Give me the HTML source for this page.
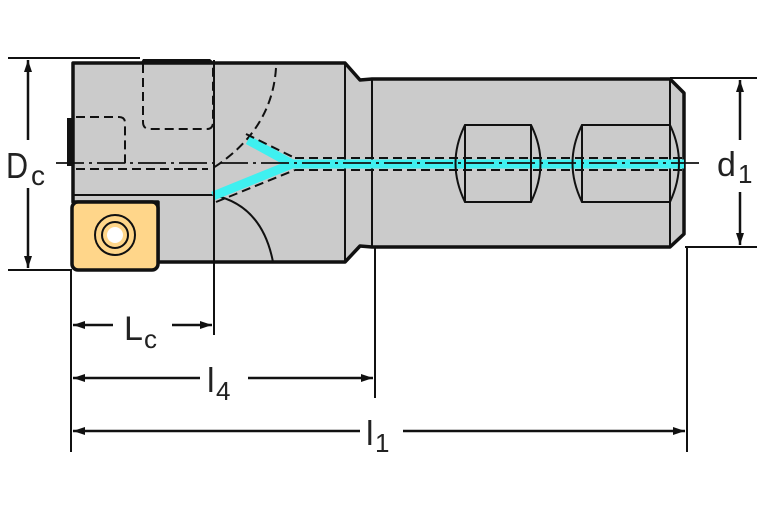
<!DOCTYPE html>
<html><head><style>
html,body{margin:0;padding:0;background:#fff;}
svg{display:block;}
text{font-family:"Liberation Sans",sans-serif;fill:#222;}
</style></head><body>
<svg width="767" height="523" viewBox="0 0 767 523" xmlns="http://www.w3.org/2000/svg">
<defs>
<marker id="a" markerWidth="12" markerHeight="8" refX="12" refY="4" orient="auto" markerUnits="userSpaceOnUse"><path d="M0,0 L12,4 L0,8 Z" fill="#111"/></marker>
</defs>
<!-- head body -->
<path d="M73,63 L345,63 L360,80 L372,79 L670,79 L684,93 L684,234 L670,247 L372,247 L360,246 L345,262 L158,262 L158,202 L73,202 Z" fill="#cbcbcb" stroke="#111" stroke-width="3.5" stroke-linejoin="round"/>
<line x1="345" y1="63" x2="345" y2="262" stroke="#111" stroke-width="2"/>
<line x1="372" y1="79" x2="372" y2="247" stroke="#111" stroke-width="2"/>
<line x1="670" y1="79" x2="670" y2="247" stroke="#111" stroke-width="2"/>
<!-- top thick segment and left tab -->
<path d="M143,59 L210,59 L216,64 L140,64 Z" fill="#111"/>
<rect x="67" y="118" width="7" height="48" fill="#111"/>
<!-- cutaway -->
<line x1="73" y1="195" x2="213" y2="195" stroke="#111" stroke-width="2"/>
<path d="M213,195 Q262,205 273,262" fill="none" stroke="#111" stroke-width="2"/>
<!-- dashed hidden -->
<g fill="none" stroke="#111" stroke-width="2" stroke-dasharray="9,5">
<path d="M143,64 L143,122 Q143,129 150,129 L207,129 Q213,129 213,122 L213,64"/>
<path d="M76,117 L119,117 Q125,117 125,123 L125,168"/>
<path d="M76,169 L208,169"/>
<path d="M276,68 Q272,130 213,168"/>
</g>
<!-- cyan coolant -->
<g stroke="#3ff0f0" stroke-width="9" stroke-linecap="butt" fill="none">
<line x1="285" y1="164" x2="684" y2="164"/>
<line x1="248" y1="140" x2="292" y2="164"/>
<line x1="213" y1="196" x2="292" y2="164"/>
</g>
<g fill="none" stroke="#111" stroke-width="2" stroke-dasharray="9,5">
<line x1="295" y1="158" x2="684" y2="158"/>
<line x1="295" y1="170" x2="684" y2="170"/>
<line x1="246" y1="134" x2="295" y2="158"/>
<line x1="216" y1="202" x2="295" y2="170"/>
</g>
<!-- shank slots -->
<g fill="none" stroke="#111" stroke-width="2">
<path d="M465,125 L531,125 Q550,163 531,202 L465,202 Q446,163 465,125 Z"/>
<line x1="465" y1="125" x2="465" y2="202"/><line x1="531" y1="125" x2="531" y2="202"/>
<path d="M582,125 L670,125 Q688,163 670,202 L582,202 Q563,163 582,125 Z"/>
<line x1="582" y1="125" x2="582" y2="202"/>
</g>
<!-- insert -->
<rect x="72" y="202" width="86" height="68" rx="6" fill="#ffd68a" stroke="#111" stroke-width="3.5"/>
<circle cx="115" cy="235" r="20" fill="none" stroke="#111" stroke-width="2"/>
<circle cx="115" cy="235" r="13" fill="none" stroke="#111" stroke-width="2"/>
<circle cx="115" cy="235" r="8" fill="#fff"/>
<!-- center line -->
<line x1="56" y1="163" x2="700" y2="163" stroke="#111" stroke-width="1.8" stroke-dasharray="28,5,3,5"/>
<!-- extension lines -->
<g stroke="#111" stroke-width="2">
<line x1="8" y1="58" x2="140" y2="58"/>
<line x1="8" y1="270" x2="72" y2="270"/>
<line x1="670" y1="78" x2="757" y2="78"/>
<line x1="685" y1="247" x2="757" y2="247"/>
<line x1="71" y1="270" x2="71" y2="452"/>
<line x1="214" y1="60" x2="214" y2="335"/>
<line x1="375" y1="247" x2="375" y2="398"/>
<line x1="687" y1="247" x2="687" y2="452"/>
</g>
<!-- dimension arrows -->
<g stroke="#111" stroke-width="2.5">
<line x1="28" y1="140" x2="28" y2="60" marker-end="url(#a)"/>
<line x1="28" y1="188" x2="28" y2="268" marker-end="url(#a)"/>
<line x1="740" y1="140" x2="740" y2="80" marker-end="url(#a)"/>
<line x1="740" y1="192" x2="740" y2="245" marker-end="url(#a)"/>
<line x1="113" y1="325" x2="73" y2="325" marker-end="url(#a)"/>
<line x1="172" y1="325" x2="212" y2="325" marker-end="url(#a)"/>
<line x1="200" y1="378" x2="73" y2="378" marker-end="url(#a)"/>
<line x1="248" y1="378" x2="373" y2="378" marker-end="url(#a)"/>
<line x1="360" y1="431" x2="73" y2="431" marker-end="url(#a)"/>
<line x1="403" y1="431" x2="685" y2="431" marker-end="url(#a)"/>
</g>
<!-- labels -->
<text x="6" y="178" font-size="36" transform="translate(6,0) scale(0.85,1) translate(-6,0)">D</text>
<text x="31" y="185" font-size="28">c</text>
<text x="717" y="176" font-size="34">d</text>
<text x="738" y="183" font-size="26">1</text>
<text x="124" y="340" font-size="34">L</text>
<text x="144" y="348" font-size="26">c</text>
<text x="207" y="392" font-size="34">l</text>
<text x="216" y="400" font-size="26">4</text>
<text x="366" y="445" font-size="34">l</text>
<text x="375" y="452" font-size="26">1</text>
</svg>
</body></html>
